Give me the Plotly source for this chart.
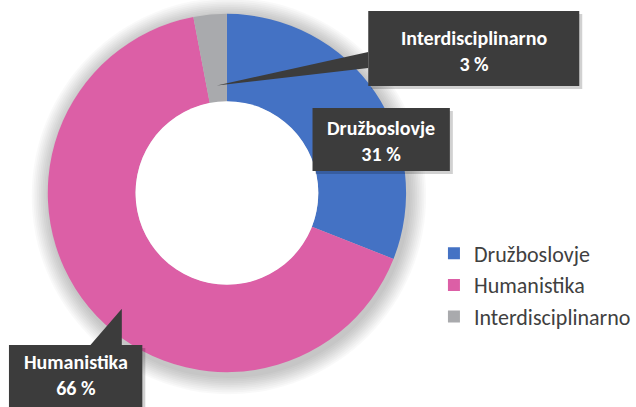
import math
import plotly.graph_objects as go

categories = ["Družboslovje", "Humanistika", "Interdisciplinarno"]
values = [31, 66, 3]
colors = ["#4472C4", "#DC5FA6", "#A9AAAD"]
label_texts = ["31 %", "66 %", "3 %"]

W, H = 636, 407
CX, CY, R = 228, 193, 180   # donut centre / radius in px
HOLE = 0.51

def px(x):
    return x / W

def py(y):
    return 1 - y / H

fig = go.Figure()

# soft shadow around donut
for i in range(10):
    rr = R + 2 + i * 1.8
    fig.add_shape(type="circle", xref="paper", yref="paper", layer="below",
                  x0=px(CX - rr + 2), x1=px(CX + rr + 2), y0=py(CY + rr + 3), y1=py(CY - rr + 3),
                  line=dict(width=0), fillcolor="rgba(0,0,0,0.022)")

fig.add_trace(go.Pie(
    labels=categories, values=values, hole=HOLE, sort=False, direction="clockwise",
    rotation=0, marker=dict(colors=colors, line=dict(width=0)),
    textinfo="none", hoverinfo="label+percent",
    domain=dict(x=[px(CX - R), px(CX + R)], y=[py(CY + R), py(CY - R)]),
))

# white hole
hr = R * HOLE
fig.add_shape(type="circle", xref="paper", yref="paper", layer="above",
              x0=px(CX - hr), x1=px(CX + hr), y0=py(CY + hr), y1=py(CY - hr),
              line=dict(width=0), fillcolor="white")

# tip position computed from slice mid-angle
total = sum(values)
cum = 0
mids = []
for v in values:
    mids.append((cum + v / 2) / total * 360)
    cum += v

def tip(i, rfrac, da=0):
    a = math.radians(mids[i] + da)
    r = R * rfrac
    return CX + r * math.sin(a), CY - r * math.cos(a)

BOX = "#3C3C3C"
def path(points):
    return "M " + " L ".join(f"{px(x)},{py(y)}" for x, y in points) + " Z"

def callout(box, pointer=None):
    x0, y0, x1, y1 = box
    fig.add_shape(type="rect", xref="paper", yref="paper",
                  x0=px(x0 + 3), x1=px(x1 + 3), y0=py(y1 + 3), y1=py(y0 + 3),
                  line=dict(width=0), fillcolor="rgba(0,0,0,0.18)")
    fig.add_shape(type="rect", xref="paper", yref="paper",
                  x0=px(x0), x1=px(x1), y0=py(y1), y1=py(y0),
                  line=dict(width=0), fillcolor=BOX)
    if pointer:
        fig.add_shape(type="path", xref="paper", yref="paper", path=path(pointer),
                      line=dict(width=0), fillcolor=BOX)

# Interdisciplinarno
tx, ty = tip(2, 0.60)
callout((370, 11, 582, 86), [(tx, ty), (370, 52), (370, 68)])
# Družboslovje
callout((314, 108, 452, 171))
# Humanistika
hx, hy = tip(1, 0.87, -8)
callout((9, 345, 143, 410), [(hx, hy), (90, 346), (hx, 346)])

FONT = "Calibri, Carlito, Lato, sans-serif"
def label(i, cx, cy):
    fig.add_annotation(xref="paper", yref="paper", x=px(cx), y=py(cy), showarrow=False,
                       text=f"<b>{categories[i]}<br>{label_texts[i]}</b>",
                       font=dict(family=FONT, size=20, color="white"),
                       align="center", xanchor="center", yanchor="middle")

label(2, 476, 51)
label(0, 383, 141)
label(1, 76, 375)

fig.update_layout(
    width=W, height=H, margin=dict(l=0, r=0, t=0, b=0),
    paper_bgcolor="white", plot_bgcolor="white",
    showlegend=True,
    legend=dict(x=px(436), y=py(285), xanchor="left", yanchor="middle",
                font=dict(family=FONT, size=22, color="#404040"),
                itemwidth=30, tracegroupgap=0, bgcolor="rgba(0,0,0,0)"),
)

fig.write_html("out.html", config={"displayModeBar": False},
               post_script="document.body.style.margin='0';")
